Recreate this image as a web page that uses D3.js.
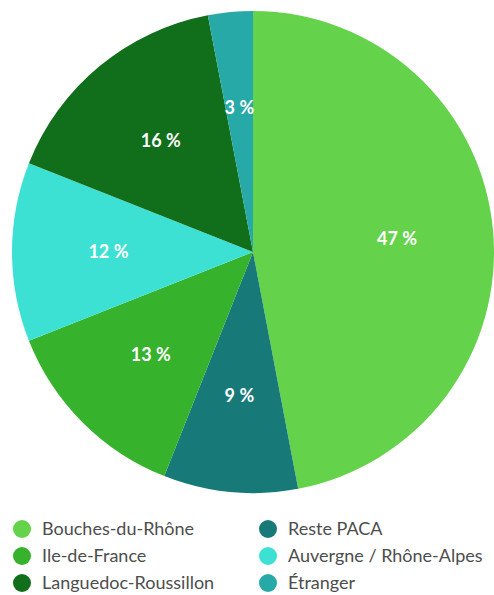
<!DOCTYPE html>
<html>
<head>
<meta charset="utf-8">
<script src="https://cdn.jsdelivr.net/npm/d3@7"></script>
<style>
  body { margin: 0; background: #fff; }
  svg { display: block; }
  .lbl { fill: #fff; font-family: Lato, "Noto Sans", sans-serif; font-weight: bold; font-size: 18px; }
  .leg { fill: #4d4d4d; font-family: Lato, "Noto Sans", sans-serif; font-size: 18px; }
</style>
</head>
<body>
<div id="chart"></div>
<script>
const categories = ["Bouches-du-Rhône", "Reste PACA", "Ile-de-France", "Auvergne / Rhône-Alpes", "Languedoc-Roussillon", "Étranger"];
const values = [47, 9, 13, 12, 16, 3];
const colors = ["#64d24a", "#187a78", "#36b22d", "#3de1d4", "#116e1a", "#27a9a8"];
// legend layout order (column by column)
const legendOrder = ["Bouches-du-Rhône", "Ile-de-France", "Languedoc-Roussillon", "Reste PACA", "Auvergne / Rhône-Alpes", "Étranger"];

const width = 494, height = 595;
const cx = 253, cy = 252, r = 241;

const svg = d3.select("#chart").append("svg").attr("width", width).attr("height", height);

const data = categories.map((c, i) => ({ label: c, value: values[i] }));
const color = d3.scaleOrdinal().domain(categories).range(colors);

const pie = d3.pie().value(d => d.value).sort(null);
const arc = d3.arc().innerRadius(0).outerRadius(r);
const labelArc = d3.arc().innerRadius(r * 0.6).outerRadius(r * 0.6);

const g = svg.append("g").attr("transform", "translate(" + cx + "," + cy + ")");

const arcs = pie(data);
g.selectAll("path").data(arcs).enter()
  .append("path")
  .attr("d", arc)
  .attr("fill", d => color(d.data.label));

g.selectAll("text").data(arcs).enter()
  .append("text")
  .attr("class", "lbl")
  .attr("transform", d => "translate(" + labelArc.centroid(d) + ")")
  .attr("text-anchor", "middle")
  .attr("dy", "0.35em")
  .text(d => d.data.value + " %");

// legend
const leg = svg.append("g");
const item = leg.selectAll("g").data(legendOrder).enter()
  .append("g")
  .attr("transform", (d, i) => "translate(" + (i < 3 ? 22 : 268) + "," + (529 + (i % 3) * 27) + ")");
item.append("circle").attr("r", 9).attr("fill", d => color(d));
item.append("text").attr("class", "leg").attr("x", 20).attr("dy", "0.35em").text(d => d);
</script>
</body>
</html>
